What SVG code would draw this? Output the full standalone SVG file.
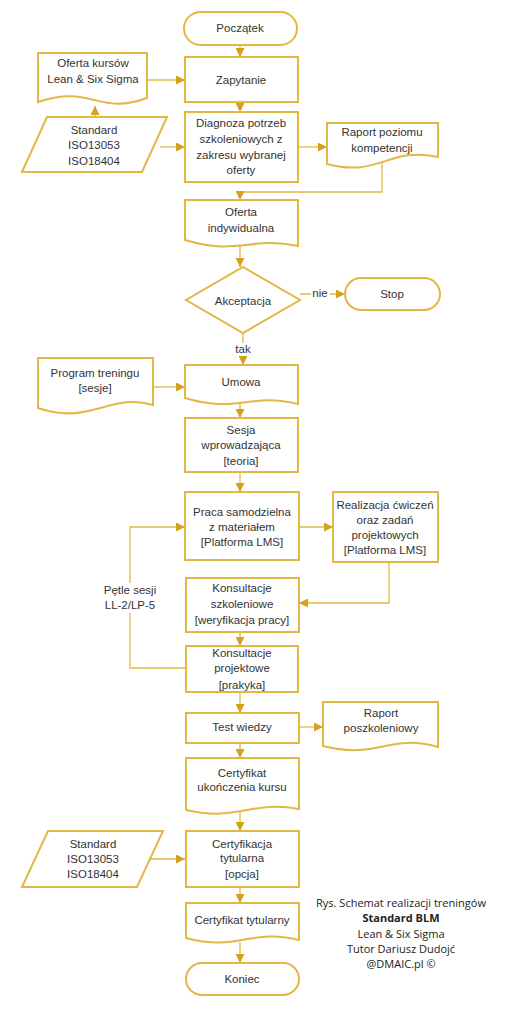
<svg xmlns="http://www.w3.org/2000/svg" width="509" height="1024" viewBox="0 0 509 1024">
<defs>
<marker id="ah" viewBox="0 0 10 10" refX="10" refY="5" markerWidth="9" markerHeight="9" markerUnits="userSpaceOnUse" orient="auto">
<path d="M0,0 L10,5 L0,10 z" fill="#D4A11C"/>
</marker>
<style>
.s{fill:#fff;stroke:#E2B744;stroke-width:2}
.c{fill:none;stroke:#E2B744;stroke-width:1.3}
.a{marker-end:url(#ah)}
text{font-family:"Liberation Sans",Arial,sans-serif;font-size:11.5px;fill:#333;text-anchor:middle;dominant-baseline:central}
.cap{font-family:"Open Sans","Liberation Sans",sans-serif;font-size:11px;fill:#222}
.lb{fill:#fff;stroke:none}
</style>
</defs>
<rect width="509" height="1024" fill="#fff"/>

<g id="connectors">
<path class="c a" d="M240,45 V57"/>
<path class="c a" d="M147,80 H185"/>
<path class="c a" d="M95,117 V106"/>
<path class="c a" d="M240,102 V112"/>
<path class="c a" d="M160,147 H185"/>
<path class="c a" d="M298,147 H327"/>
<path class="c a" d="M382,163 V192 H240 V200"/>
<path class="c a" d="M240,246 V267"/>
<path class="c a" d="M300,294 H345"/>
<rect class="lb" x="311" y="287" width="19" height="14"/>
<text x="320" y="293">nie</text>
<path class="c a" d="M243,333 V365"/>
<rect class="lb" x="232" y="343" width="22" height="13"/>
<text x="243" y="349">tak</text>
<path class="c a" d="M153,387 H185"/>
<path class="c a" d="M240,402 V418"/>
<path class="c a" d="M240,472 V492"/>
<path class="c a" d="M299,527 H333"/>
<path class="c a" d="M389,562 V603 H299"/>
<path class="c a" d="M185,668 H130 V527 H185"/>
<rect class="lb" x="101" y="583" width="58" height="30"/>
<text x="130" y="590">Pętle sesji</text>
<text x="130" y="605">LL-2/LP-5</text>
<path class="c a" d="M240,632 V646"/>
<path class="c a" d="M240,692 V713"/>
<path class="c a" d="M299,727 H323"/>
<path class="c a" d="M240,743 V758"/>
<path class="c a" d="M240,812 V831"/>
<path class="c a" d="M150,859 H185"/>
<path class="c a" d="M240,887 V903"/>
<path class="c a" d="M240,942 V963"/>
</g>

<g id="n-poczatek">
<rect class="s" x="184" y="12" width="113" height="33" rx="16.5"/>
<text x="240" y="28">Początek</text>
</g>
<g id="n-oferta-kursow">
<path class="s" d="M38,53 H147 V98 C98,116 92,84 38,102 Z"/>
<text x="93" y="63">Oferta kursów</text>
<text x="93" y="79">Lean &amp; Six Sigma</text>
</g>
<g id="n-zapytanie">
<rect class="s" x="185" y="57" width="113" height="45"/>
<text x="241" y="80">Zapytanie</text>
</g>
<g id="n-standard1">
<path class="s" d="M47,117 H167 L142,172 H22 Z"/>
<text x="94" y="130">Standard</text>
<text x="94" y="145">ISO13053</text>
<text x="94" y="161">ISO18404</text>
</g>
<g id="n-diagnoza">
<rect class="s" x="185" y="112" width="113" height="70"/>
<text x="241" y="123">Diagnoza potrzeb</text>
<text x="241" y="139">szkoleniowych z</text>
<text x="241" y="155">zakresu wybranej</text>
<text x="241" y="170">oferty</text>
</g>
<g id="n-raport-poziomu">
<path class="s" d="M327,123 H438 V157 C388,146 380,178 327,164 Z"/>
<text x="382" y="132">Raport poziomu</text>
<text x="382" y="148">kompetencji</text>
</g>
<g id="n-oferta-indywidualna">
<path class="s" d="M185,200 H298 V246 C250,236 238,256 185,240 Z"/>
<text x="241" y="212">Oferta</text>
<text x="241" y="228">indywidualna</text>
</g>
<g id="n-akceptacja">
<path class="s" d="M243,267 L300,300 L243,333 L186,300 Z"/>
<text x="243" y="301">Akceptacja</text>
</g>
<g id="n-stop">
<rect class="s" x="345" y="278" width="95" height="32" rx="16"/>
<text x="392" y="294">Stop</text>
</g>
<g id="n-program">
<path class="s" d="M38,358 H153 V405 C110,392 90,426 38,408 Z"/>
<text x="95" y="373">Program treningu</text>
<text x="95" y="388">[sesje]</text>
</g>
<g id="n-umowa">
<path class="s" d="M185,365 H298 V404 C250,392 238,414 185,398 Z"/>
<text x="241" y="382">Umowa</text>
</g>
<g id="n-sesja">
<rect class="s" x="185" y="418" width="113" height="54"/>
<text x="241" y="430">Sesja</text>
<text x="241" y="445">wprowadzająca</text>
<text x="241" y="461">[teoria]</text>
</g>
<g id="n-praca">
<rect class="s" x="185" y="492" width="114" height="68"/>
<text x="242" y="512">Praca samodzielna</text>
<text x="242" y="527">z materiałem</text>
<text x="242" y="542">[Platforma LMS]</text>
</g>
<g id="n-realizacja">
<rect class="s" x="333" y="492" width="105" height="70"/>
<text x="385" y="505">Realizacja ćwiczeń</text>
<text x="385" y="520">oraz zadań</text>
<text x="385" y="535">projektowych</text>
<text x="385" y="550">[Platforma LMS]</text>
</g>
<g id="n-konsultacje-szkoleniowe">
<rect class="s" x="186" y="578" width="113" height="54"/>
<text x="242" y="588">Konsultacje</text>
<text x="242" y="604">szkoleniowe</text>
<text x="242" y="620">[weryfikacja pracy]</text>
</g>
<g id="n-konsultacje-projektowe">
<rect class="s" x="186" y="646" width="112" height="46"/>
<text x="242" y="653">Konsultacje</text>
<text x="242" y="668">projektowe</text>
<text x="242" y="685">[prakyka]</text>
</g>
<g id="n-test">
<rect class="s" x="186" y="713" width="113" height="30"/>
<text x="242" y="727">Test wiedzy</text>
</g>
<g id="n-raport-poszkoleniowy">
<path class="s" d="M323,702 H438 V747 C388,733 378,760 323,746 Z"/>
<text x="381" y="713">Raport</text>
<text x="381" y="728">poszkoleniowy</text>
</g>
<g id="n-certyfikat-ukonczenia">
<path class="s" d="M186,758 H299 V809 C250,800 238,822 186,810 Z"/>
<text x="242" y="773">Certyfikat</text>
<text x="242" y="787">ukończenia kursu</text>
</g>
<g id="n-standard2">
<path class="s" d="M48,831 H163 L137,887 H22 Z"/>
<text x="93" y="844">Standard</text>
<text x="93" y="859">ISO13053</text>
<text x="93" y="874">ISO18404</text>
</g>
<g id="n-certyfikacja">
<rect class="s" x="186" y="831" width="113" height="56"/>
<text x="242" y="844">Certyfikacja</text>
<text x="242" y="858">tytularna</text>
<text x="242" y="874">[opcja]</text>
</g>
<g id="n-certyfikat-tytularny">
<path class="s" d="M186,903 H299 V940 C250,928 238,952 186,938 Z"/>
<text x="242" y="920">Certyfikat tytularny</text>
</g>
<g id="n-koniec">
<rect class="s" x="186" y="963" width="113" height="32" rx="16"/>
<text x="242" y="979">Koniec</text>
</g>
<g id="caption">
<text class="cap" x="401" y="902">Rys. Schemat realizacji treningów</text>
<text class="cap" x="401" y="917" font-weight="bold">Standard BLM</text>
<text class="cap" x="401" y="933">Lean &amp; Six Sigma</text>
<text class="cap" x="401" y="948">Tutor Dariusz Dudojć</text>
<text class="cap" x="401" y="963">@DMAIC.pl ©</text>
</g>
</svg>
